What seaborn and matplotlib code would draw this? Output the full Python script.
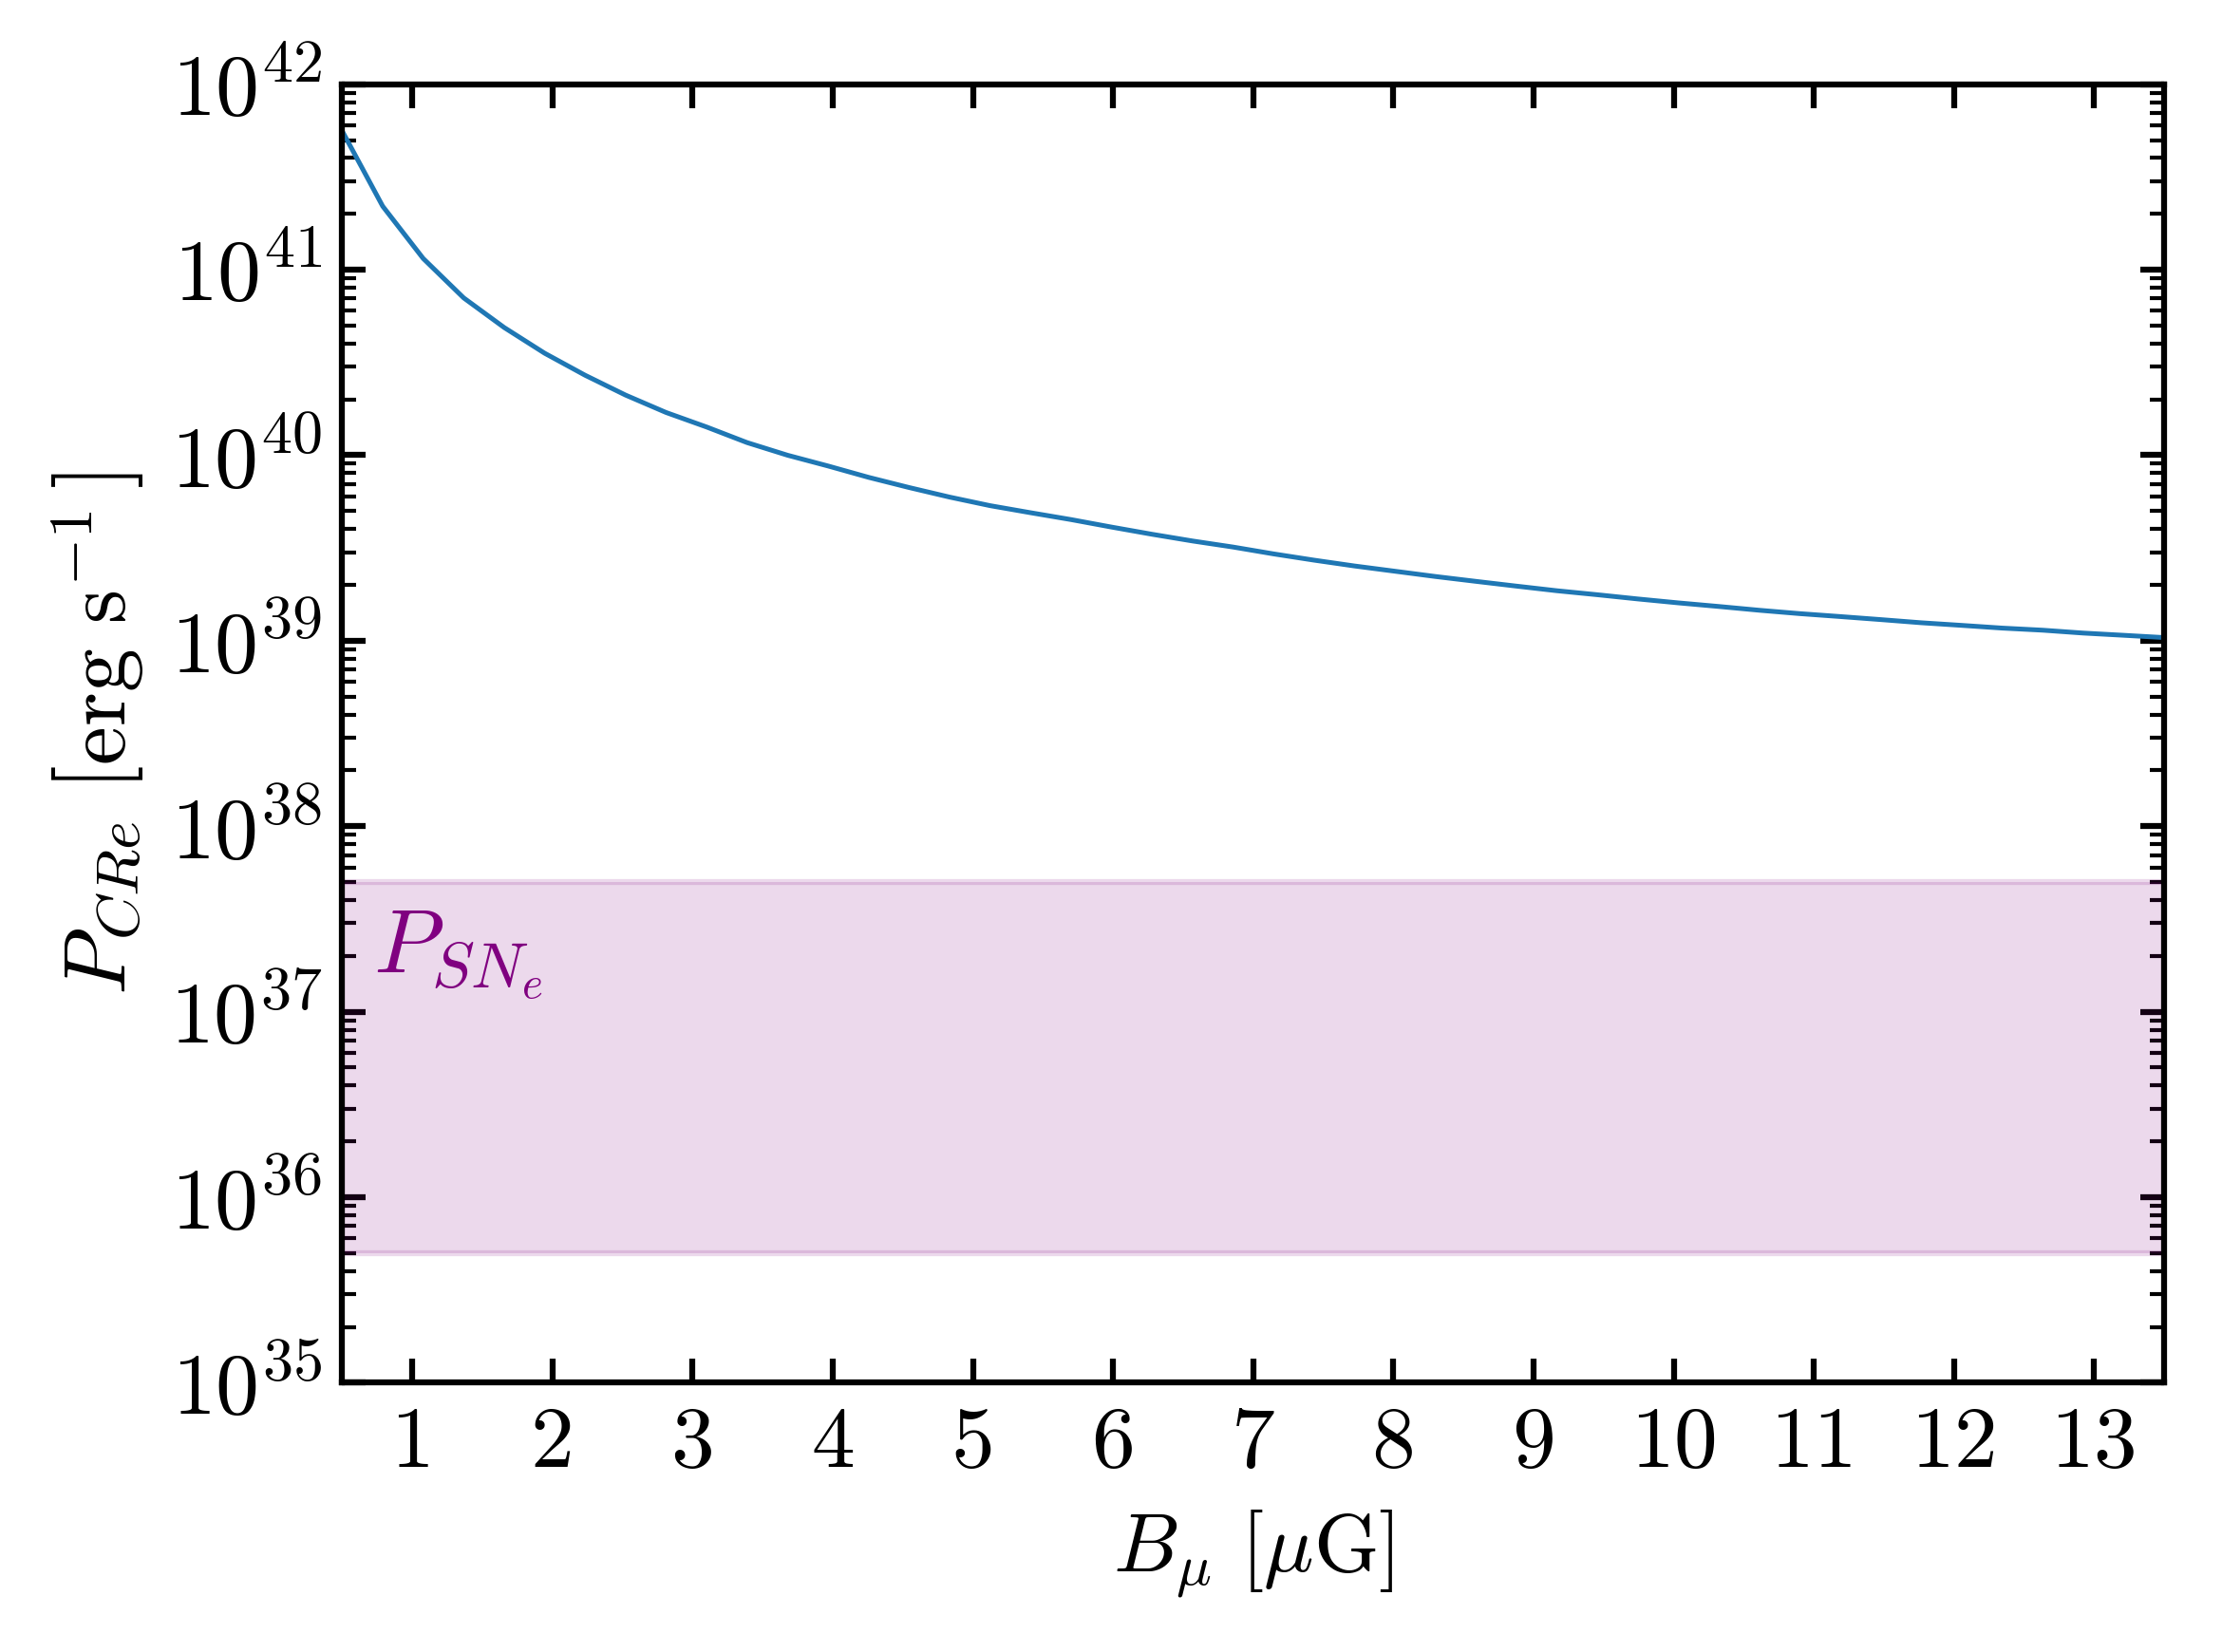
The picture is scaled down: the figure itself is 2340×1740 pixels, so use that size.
import numpy as np
import pandas as pd
import seaborn as sns
import matplotlib.pyplot as plt

# values
b_field = [0.5, 0.789, 1.078, 1.367, 1.656, 1.944, 2.233, 2.522, 2.811, 3.1,
           3.389, 3.678, 3.967, 4.256, 4.544, 4.833, 5.122, 5.411, 5.7, 5.989,
           6.278, 6.567, 6.856, 7.144, 7.433, 7.722, 8.011, 8.3, 8.589, 8.878,
           9.167, 9.456, 9.744, 10.033, 10.322, 10.611, 10.9, 11.189, 11.478, 11.767,
           12.056, 12.344, 12.633, 12.922, 13.211, 13.5]
p_cre = [5.6e41, 2.2e41, 1.15e41, 7.05e40, 4.88e40, 3.55e40, 2.70e40, 2.11e40, 1.70e40, 1.42e40,
         1.17e40, 1.0e40, 8.75e39, 7.6e39, 6.7e39, 5.95e39, 5.35e39, 4.9e39, 4.5e39, 4.1e39,
         3.75e39, 3.45e39, 3.2e39, 2.94e39, 2.72e39, 2.53e39, 2.37e39, 2.22e39, 2.09e39, 1.97e39,
         1.86e39, 1.77e39, 1.68e39, 1.60e39, 1.53e39, 1.46e39, 1.40e39, 1.35e39, 1.30e39, 1.25e39,
         1.21e39, 1.17e39, 1.14e39, 1.10e39, 1.07e39, 1.04e39]
p_sn_low, p_sn_high = 5e35, 5e37
x_ticks = list(range(1, 14))

sns.set_theme(style="ticks")
plt.rcParams.update({
    "font.family": "serif",
    "font.serif": ["cmr10"],
    "mathtext.fontset": "cm",
    "axes.formatter.use_mathtext": True,
    "axes.linewidth": 1.5,
    "xtick.direction": "in",
    "ytick.direction": "in",
    "xtick.top": True,
    "ytick.right": True,
    "xtick.major.size": 6,
    "ytick.major.size": 6,
    "xtick.major.width": 1.5,
    "ytick.major.width": 1.5,
    "ytick.minor.size": 3.5,
    "ytick.minor.width": 1.0,
    "xtick.major.pad": 6,
    "ytick.major.pad": 5,
    "xtick.color": "black",
    "ytick.color": "black",
    "xtick.labelcolor": "black",
    "ytick.labelcolor": "black",
    "axes.labelcolor": "black",
    "text.color": "black",
    "axes.edgecolor": "black",
})

df = pd.DataFrame({"B": b_field, "P": p_cre})

fig, ax = plt.subplots(figsize=(7.8, 5.8), dpi=300)
fig.subplots_adjust(left=0.154, right=0.974, bottom=0.163, top=0.949)

sns.lineplot(data=df, x="B", y="P", ax=ax, color="#1f77b4", linewidth=1.2)
ax.axhspan(p_sn_low, p_sn_high, color="purple", alpha=0.15, linewidth=1.5)
ax.text(0.72, 1.6e37, r"$P_{SN_e}$", color="purple", fontsize=23, va="baseline")

ax.set_yscale("log")
ax.set_ylim(1e35, 1e42)
ax.set_xlim(0.5, 13.5)
ax.set_xticks(x_ticks)
ax.set_xticklabels([str(t) for t in x_ticks])
ax.tick_params(labelsize=22)
ax.minorticks_on()
ax.tick_params(axis="x", which="minor", bottom=False, top=False)

ax.set_xlabel(r"$B_\mu\ [\mu\mathrm{G}]$", fontsize=21, labelpad=6)
ax.set_ylabel(r"$P_{CRe}\ \left[\mathrm{erg\ s}^{-1}\,\right]$", fontsize=22, labelpad=6)

plt.savefig("out.png", dpi=300)
plt.close()
